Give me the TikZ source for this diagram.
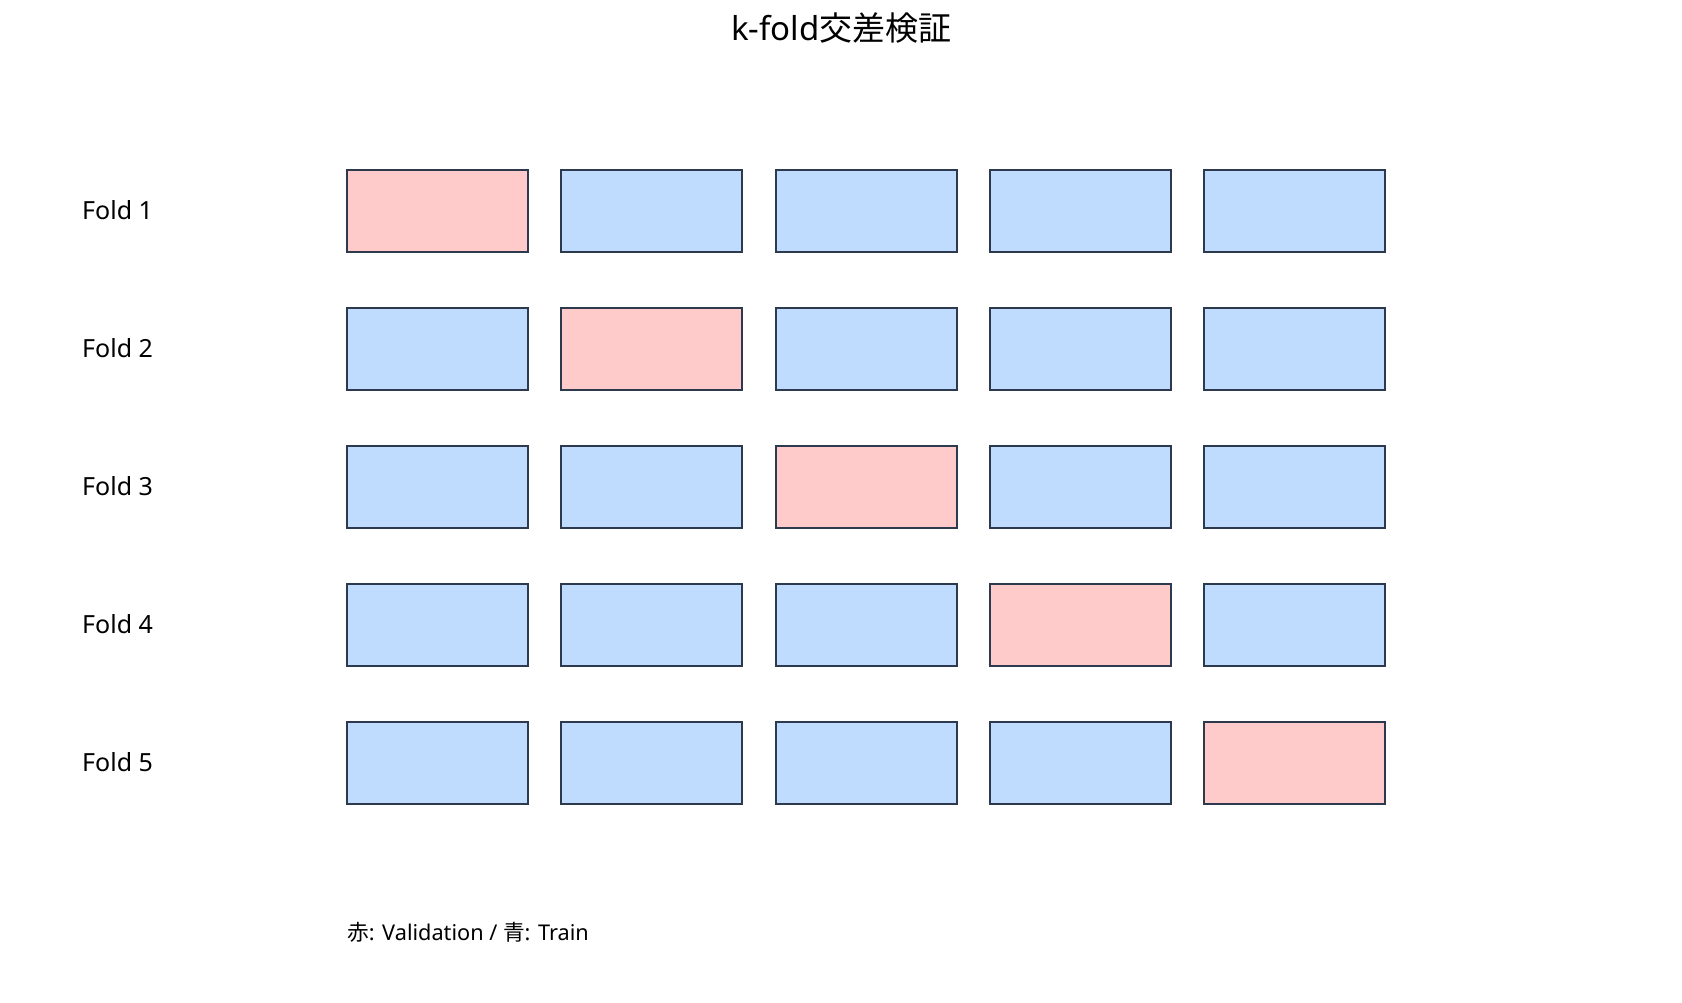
\documentclass[tikz,border=0pt]{standalone}
\usepackage{fontspec}
\setmainfont{Noto Sans}
\newfontfamily\cjk{Noto Sans CJK JP}
\usepackage{tikz}
\usetikzlibrary{positioning}

\definecolor{valred}{HTML}{FECACA}
\definecolor{trnblue}{HTML}{BFDBFE}
\definecolor{edge}{HTML}{2D3A4E}

\begin{document}
\begin{tikzpicture}[x=1pt,y=1pt,
    part/.style={draw=edge,line width=2pt,minimum width=181pt,minimum height=82pt,
      inner sep=0pt,outer sep=0pt},
    val/.style={part,fill=valred},
    trn/.style={part,fill=trnblue},
    fold/.style={anchor=west,inner sep=0pt,font=\fontsize{25}{29}\selectfont},
    node distance=33.3pt]
  \useasboundingbox (0,0) rectangle (1682,1003);
  \node[inner sep=0pt,anchor=base,font=\fontsize{33}{39}\selectfont] (title)
    at (841.5,962.3) {k-fold{\cjk 交差検証}};
  % one row per fold, the red part moves along
  \node[val] (a1) at (437.5,792) {};
  \node[trn,right=of a1] (a2) {}; \node[trn,right=of a2] (a3) {};
  \node[trn,right=of a3] (a4) {}; \node[trn,right=of a4] (a5) {};
  \node[trn] (b1) at (437.5,654) {};
  \node[val,right=of b1] (b2) {}; \node[trn,right=of b2] (b3) {};
  \node[trn,right=of b3] (b4) {}; \node[trn,right=of b4] (b5) {};
  \node[trn] (c1) at (437.5,516) {};
  \node[trn,right=of c1] (c2) {}; \node[val,right=of c2] (c3) {};
  \node[trn,right=of c3] (c4) {}; \node[trn,right=of c4] (c5) {};
  \node[trn] (d1) at (437.5,378) {};
  \node[trn,right=of d1] (d2) {}; \node[trn,right=of d2] (d3) {};
  \node[val,right=of d3] (d4) {}; \node[trn,right=of d4] (d5) {};
  \node[trn] (e1) at (437.5,240) {};
  \node[trn,right=of e1] (e2) {}; \node[trn,right=of e2] (e3) {};
  \node[trn,right=of e3] (e4) {}; \node[val,right=of e4] (e5) {};
  % labels
  \node[fold] (fa) at (82,793) {Fold 1};
  \node[fold] (fb) at (82,655) {Fold 2};
  \node[fold] (fc) at (82,517) {Fold 3};
  \node[fold] (fd) at (82,379) {Fold 4};
  \node[fold] (fe) at (82,241) {Fold 5};
  \node[inner sep=0pt,anchor=base west,font=\fontsize{21.7}{26}\selectfont] (legend)
    at (347,62) {{\cjk 赤}: Validation / {\cjk 青}: Train};
\end{tikzpicture}
\end{document}
